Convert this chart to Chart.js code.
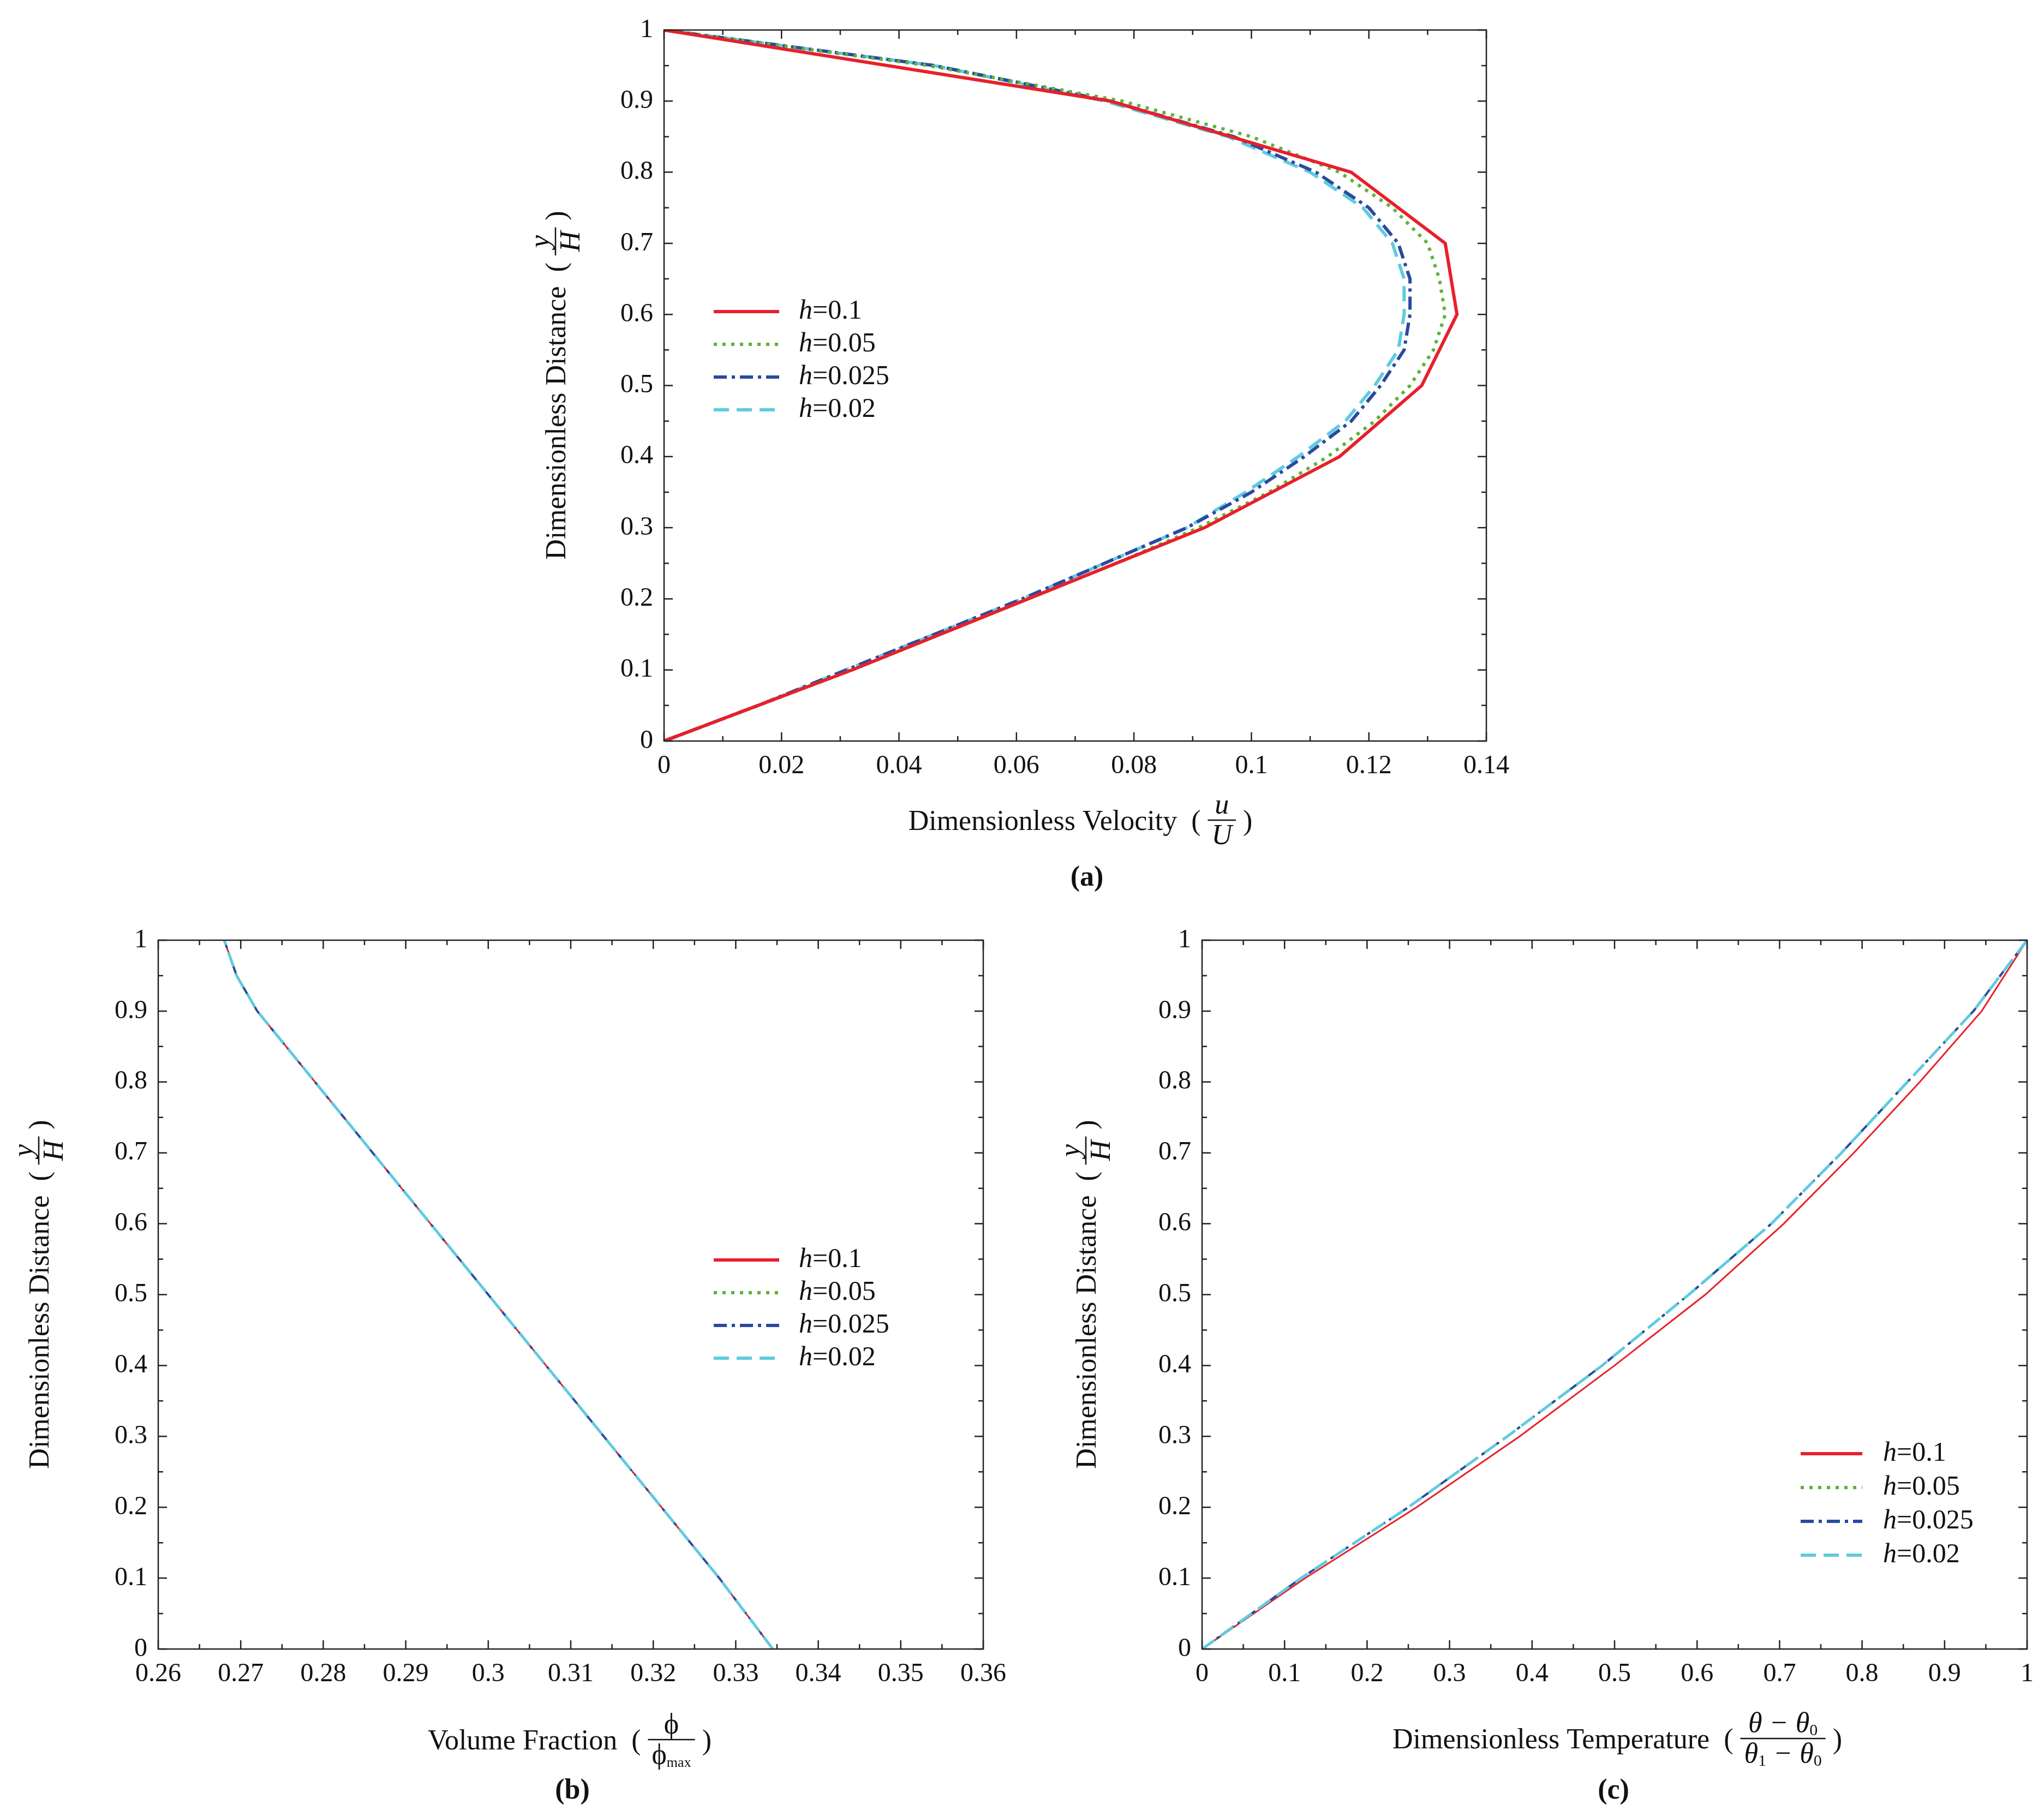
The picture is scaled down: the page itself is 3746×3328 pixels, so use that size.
<!DOCTYPE html>
<html><head><meta charset="utf-8">
<script src="https://cdn.jsdelivr.net/npm/chart.js@4"></script>
<style>
html,body{margin:0;background:#fff;}
canvas{position:absolute;left:0;top:0;}
</style></head>
<body>
<canvas id="ca" width="3746" height="3328"></canvas>
<canvas id="cb" width="3746" height="3328"></canvas>
<canvas id="cc" width="3746" height="3328"></canvas>
<script>
const seriesNames = ["h=0.1", "h=0.05", "h=0.025", "h=0.02"];

// (a) velocity profiles, y/H levels and u/U values
const velY10 = [0, 0.1, 0.2, 0.3, 0.4, 0.5, 0.6, 0.7, 0.8, 0.9, 1];
const velH01 = [0, 0.032, 0.062, 0.092, 0.115, 0.129, 0.135, 0.133, 0.117, 0.076, 0];
const velY20 = [0, 0.05, 0.1, 0.15, 0.2, 0.25, 0.3, 0.35, 0.4, 0.45, 0.5, 0.55, 0.6, 0.65, 0.7, 0.75, 0.8, 0.85, 0.9, 0.95, 1];
const velH005 = [0, 0.016, 0.032, 0.047, 0.062, 0.077, 0.091, 0.103, 0.113, 0.121, 0.127, 0.131, 0.133, 0.132, 0.130, 0.124, 0.115, 0.100, 0.078, 0.045, 0];
const velH0025 = [0, 0.016, 0.031, 0.046, 0.061, 0.075, 0.089, 0.100, 0.109, 0.117, 0.122, 0.126, 0.127, 0.127, 0.125, 0.120, 0.111, 0.097, 0.076, 0.046, 0];
const velH002 = [0, 0.016, 0.031, 0.046, 0.061, 0.075, 0.089, 0.099, 0.108, 0.116, 0.121, 0.125, 0.126, 0.126, 0.124, 0.119, 0.110, 0.096, 0.075, 0.046, 0];

// (b) volume fraction
const fracY = [0, 0.1, 0.2, 0.3, 0.4, 0.5, 0.6, 0.7, 0.8, 0.9, 0.95, 1];
const fracAll = [0.3345, 0.328, 0.321, 0.314, 0.307, 0.300, 0.293, 0.286, 0.279, 0.272, 0.2695, 0.268];

// (c) temperature
const tempY = [0, 0.1, 0.2, 0.3, 0.4, 0.5, 0.6, 0.7, 0.8, 0.9, 1];
const tempH01 = [0, 0.125, 0.26, 0.385, 0.50, 0.61, 0.705, 0.79, 0.87, 0.945, 1];
const tempOther = [0, 0.12, 0.25, 0.37, 0.485, 0.59, 0.69, 0.775, 0.855, 0.935, 1];

const colors = ["#e8202a", "#5db33a", "#2a4aa0", "#5fcbe0"];
const dashes = [[], [6, 10], [24, 9, 6, 9], [28, 14]];
const FONT = "'Liberation Serif', 'DejaVu Serif', serif";

function pts(xs, ys) { return xs.map((x, i) => ({ x: x, y: ys[i] })); }

function fontOf(s, size) { return (s.it ? "italic " : "") + (s.sz || size) + "px " + FONT; }

function drawFrac(ctx, x, y, num, den, size) {
  ctx.save();
  const parts = [num, den].map(p => p.map(s => {
    ctx.font = fontOf(s, size);
    return { s: s, w: ctx.measureText(s.t).width };
  }));
  const wNum = parts[0].reduce((a, b) => a + b.w, 0);
  const wDen = parts[1].reduce((a, b) => a + b.w, 0);
  const w = Math.max(wNum, wDen) + 14;
  [[parts[0], wNum, y - 12], [parts[1], wDen, y + size * 0.85]].forEach(([pp, ww, yy]) => {
    let cx = x + (w - ww) / 2;
    pp.forEach(p => {
      ctx.font = fontOf(p.s, size);
      ctx.textBaseline = "alphabetic";
      ctx.fillText(p.s.t, cx, yy + (p.s.dy || 0));
      cx += p.w;
    });
  });
  ctx.lineWidth = 2.5;
  ctx.beginPath(); ctx.moveTo(x, y); ctx.lineTo(x + w, y); ctx.stroke();
  ctx.restore();
  return w;
}

function drawTitle(ctx, cx, cy, text, num, den, rotate, size) {
  ctx.save();
  ctx.translate(cx, cy);
  if (rotate) ctx.rotate(-Math.PI / 2);
  ctx.fillStyle = "#111"; ctx.strokeStyle = "#111";
  ctx.font = size + "px " + FONT;
  const tw = ctx.measureText(text + "  ( ").width;
  let fw = 0;
  [num, den].forEach(p => {
    let s = 0;
    p.forEach(q => { ctx.font = fontOf(q, size); s += ctx.measureText(q.t).width; });
    fw = Math.max(fw, s);
  });
  fw += 14;
  ctx.font = size + "px " + FONT;
  const pw = ctx.measureText(" )").width;
  let x = -(tw + fw + pw) / 2;
  ctx.textBaseline = "middle";
  ctx.fillText(text + "  ( ", x, 0);
  x += tw;
  x += drawFrac(ctx, x, -4, num, den, size);
  ctx.font = size + "px " + FONT;
  ctx.textBaseline = "middle";
  ctx.fillText(" )", x, 0);
  ctx.restore();
}

const framePlugin = {
  id: "frame",
  afterDraw(chart, args, o) {
    const ctx = chart.ctx, a = chart.chartArea;
    const xs = chart.scales.x, ys = chart.scales.y;
    ctx.save();
    ctx.strokeStyle = "#222"; ctx.lineWidth = 2.5;
    ctx.strokeRect(a.left, a.top, a.right - a.left, a.bottom - a.top);
    const tick = (v, sc, major) => {
      const L = major ? 16 : 9;
      const p = sc.getPixelForValue(v);
      ctx.beginPath();
      if (sc.axis === "x") {
        ctx.moveTo(p, a.bottom); ctx.lineTo(p, a.bottom - L);
        ctx.moveTo(p, a.top); ctx.lineTo(p, a.top + L);
      } else {
        ctx.moveTo(a.left, p); ctx.lineTo(a.left + L, p);
        ctx.moveTo(a.right, p); ctx.lineTo(a.right - L, p);
      }
      ctx.stroke();
    };
    [xs, ys].forEach(sc => {
      const st = sc.options.ticks.stepSize;
      const n = Math.round((sc.max - sc.min) / st * 2);
      for (let i = 0; i <= n; i++) tick(sc.min + i * st / 2, sc, i % 2 === 0);
    });
    // legend
    const lg = o.legend;
    chart.data.datasets.forEach((d, i) => {
      const y = lg.y + i * lg.dy;
      ctx.strokeStyle = d.borderColor; ctx.lineWidth = 6;
      ctx.setLineDash(d.borderDash || []);
      ctx.beginPath(); ctx.moveTo(lg.x1, y); ctx.lineTo(lg.x2, y); ctx.stroke();
      ctx.setLineDash([]);
      ctx.fillStyle = "#111"; ctx.textBaseline = "middle";
      ctx.font = "italic 50px " + FONT;
      ctx.fillText("h", lg.tx, y);
      const hw = ctx.measureText("h").width;
      ctx.font = "50px " + FONT;
      ctx.fillText(d.label.slice(1), lg.tx + hw, y);
    });
    // titles
    const t = o.titles;
    drawTitle(ctx, t.xc, t.xy, t.xText, t.xNum, t.xDen, false, 52);
    drawTitle(ctx, t.yx, t.yc, "Dimensionless Distance", [{ t: "y", it: true }], [{ t: "H", it: true }], true, 52);
    ctx.fillStyle = "#111"; ctx.font = "bold 52px " + FONT;
    ctx.textAlign = "center"; ctx.textBaseline = "middle";
    ctx.fillText(t.label, t.lx, t.ly);
    ctx.restore();
  }
};

function makeChart(id, area, xr, yr, sets, widths, redTop, legend, titles) {
  const W = 3746, H = 3328, yW = 120, xH = 70;
  const datasets = sets.map((s, i) => ({
    label: seriesNames[i], data: s, showLine: true, pointRadius: 0,
    borderColor: colors[i], borderWidth: widths[i], borderDash: dashes[i], fill: false, tension: 0,
    order: redTop ? i : -i
  }));
  const tickFont = { family: FONT, size: 48 };
  const fmt = v => String(+Number(v).toFixed(4));
  new Chart(document.getElementById(id), {
    type: "scatter",
    data: { datasets: datasets },
    options: {
      responsive: false, animation: false, events: [],
      layout: { padding: { left: area[0] - yW, top: area[1], right: W - area[2], bottom: H - area[3] - xH } },
      plugins: { legend: { display: false }, tooltip: { enabled: false }, frame: { legend: legend, titles: titles } },
      scales: {
        x: { type: "linear", min: xr[0], max: xr[1], grid: { display: false }, border: { display: false },
          ticks: { stepSize: xr[2], font: tickFont, color: "#111", padding: 10, maxRotation: 0, callback: fmt },
          afterFit: s => { s.height = xH; } },
        y: { type: "linear", min: yr[0], max: yr[1], grid: { display: false }, border: { display: false },
          ticks: { stepSize: yr[2], font: tickFont, color: "#111", padding: 12, callback: fmt },
          afterFit: s => { s.width = yW; } }
      }
    },
    plugins: [framePlugin]
  });
}

makeChart("ca", [1217, 55, 2724, 1358], [0, 0.14, 0.02], [0, 1, 0.1],
  [pts(velH01, velY10), pts(velH005, velY20), pts(velH0025, velY20), pts(velH002, velY20)],
  [6, 6, 6, 6], true,
  { x1: 1308, x2: 1428, tx: 1464, y: 571, dy: 60 },
  { xc: 1980, xy: 1507, xText: "Dimensionless Velocity", xNum: [{ t: "u", it: true }], xDen: [{ t: "U", it: true }],
    yx: 1022, yc: 706, label: "(a)", lx: 1992, ly: 1610 });

makeChart("cb", [290, 1723, 1802, 3022], [0.26, 0.36, 0.01], [0, 1, 0.1],
  [pts(fracAll, fracY), pts(fracAll, fracY), pts(fracAll, fracY), pts(fracAll, fracY)],
  [3, 3, 4, 5], false,
  { x1: 1308, x2: 1428, tx: 1464, y: 2309, dy: 60 },
  { xc: 1044, xy: 3192, xText: "Volume Fraction", xNum: [{ t: "ϕ" }], xDen: [{ t: "ϕ" }, { t: "max", sz: 26, dy: 6 }],
    yx: 75, yc: 2372, label: "(b)", lx: 1049, ly: 3283 });

makeChart("cc", [2203, 1723, 3715, 3022], [0, 1, 0.1], [0, 1, 0.1],
  [pts(tempH01, tempY), pts(tempOther, tempY), pts(tempOther, tempY), pts(tempOther, tempY)],
  [3, 4, 4, 5], false,
  { x1: 3300, x2: 3413, tx: 3451, y: 2664, dy: 62 },
  { xc: 2964, xy: 3190, xText: "Dimensionless Temperature", xNum: [{ t: "θ − θ", it: true }, { t: "0", sz: 30, dy: 6 }],
    xDen: [{ t: "θ", it: true }, { t: "1", sz: 30, dy: 6 }, { t: " − θ", it: true }, { t: "0", sz: 30, dy: 6 }],
    yx: 1994, yc: 2372, label: "(c)", lx: 2957, ly: 3283 });
</script>
</body></html>
